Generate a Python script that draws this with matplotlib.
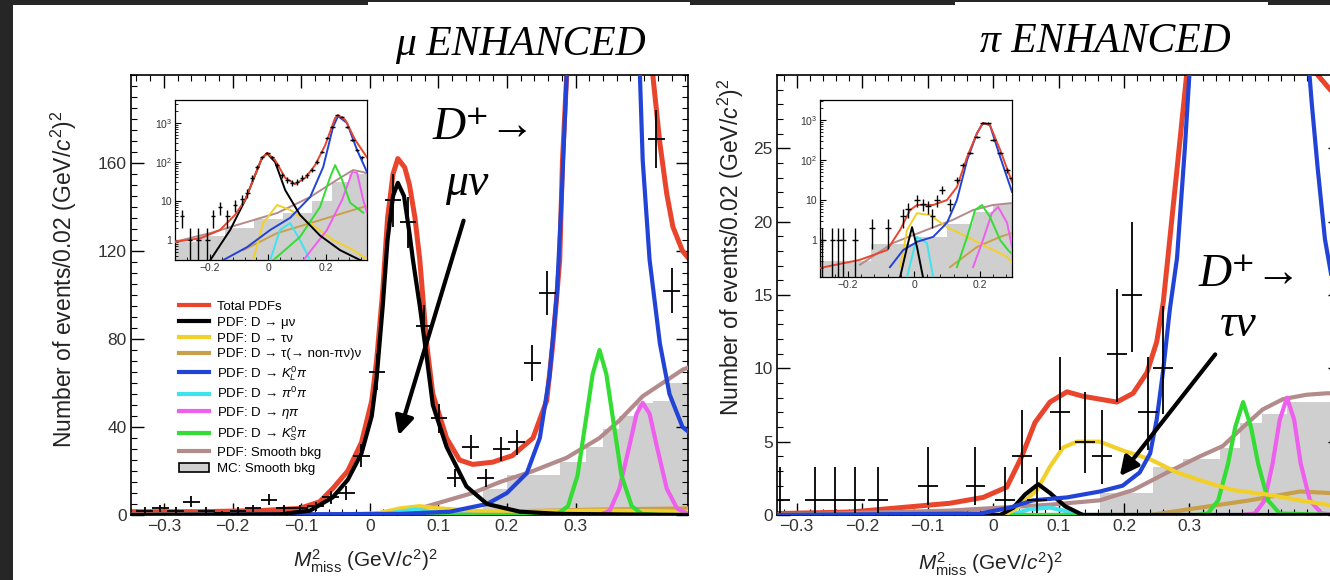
import numpy as np
import matplotlib.pyplot as plt
from matplotlib.patches import Rectangle, Patch
from matplotlib.lines import Line2D
from matplotlib.ticker import FixedLocator, MultipleLocator, NullFormatter

plt.rcParams['font.family'] = ['Liberation Sans', 'DejaVu Sans']
plt.rcParams['mathtext.fontset'] = 'custom'
plt.rcParams['mathtext.rm'] = 'Liberation Sans'
plt.rcParams['mathtext.it'] = 'Liberation Sans:italic'
plt.rcParams['mathtext.bf'] = 'Liberation Sans:bold'

W, H = 1330, 580
SERIF = ['Liberation Serif', 'DejaVu Serif']

# colours of the fit components
COL = dict(total='#e8452c', mu='black', tau='#f2d02a', taunon='#c9a04a', klpi='#2143d6',
           pi0pi='#3fe3ee', etapi='#ee5fee', kspi='#33dd33', smooth='#b38b8b', mc='#cfcfcf')

# ---------------- mu enhanced, main panel ----------------
mu_data_x = [-0.328, -0.305, -0.283, -0.260, -0.238, -0.215, -0.192, -0.170, -0.147, -0.125,
             -0.102, -0.079, -0.057, -0.034, -0.012, 0.011, 0.034, 0.056, 0.079, 0.101,
             0.124, 0.147, 0.169, 0.192, 0.214, 0.237, 0.259, 0.418, 0.440]
mu_data_y = [2, 3, 2, 6, 2, 1, 2, 3, 7, 3, 3, 4, 8, 10, 27, 65, 143, 133, 86, 44,
             17, 31, 17, 30, 33, 69, 101, 171, 102]

mu_total_x = [-0.348, -0.248, -0.160, -0.102, -0.073, -0.054, -0.032, -0.012, 0.003, 0.010,
              0.019, 0.026, 0.034, 0.041, 0.051, 0.058, 0.066, 0.073, 0.083, 0.092, 0.112,
              0.131, 0.150, 0.179, 0.208, 0.238, 0.258, 0.267, 0.277, 0.281, 0.287, 0.294,
              0.405, 0.413, 0.423, 0.433, 0.442, 0.456, 0.464]
mu_total_y = [1.5, 1.5, 2, 3, 6, 12, 20, 33, 52, 70, 102, 135, 155, 162, 158, 150, 135, 116,
              78, 55, 35, 25, 23, 24, 27, 35, 52, 78, 116, 161, 199, 260, 260, 199, 169, 146,
              131, 120, 117]
mu_munu_x = [-0.348, -0.131, -0.087, -0.054, -0.032, -0.012, 0.003, 0.010, 0.019, 0.026, 0.034,
             0.041, 0.050, 0.058, 0.063, 0.073, 0.083, 0.092, 0.112, 0.141, 0.171, 0.219, 0.277,
             0.464]
mu_munu_y = [0, 0.3, 2, 8, 16, 28, 45, 62, 95, 125, 145, 151, 145, 128, 116, 95, 72, 50, 31,
             13, 5, 1.5, 0.5, 0]
mu_klpi_x = [-0.348, 0.044, 0.117, 0.171, 0.200, 0.229, 0.248, 0.262, 0.273, 0.280, 0.287,
             0.294, 0.386, 0.394, 0.398, 0.408, 0.423, 0.437, 0.456, 0.464]
mu_klpi_y = [0, 0.5, 1.5, 5, 10, 19, 35, 63, 101, 146, 199, 260, 260, 199, 161, 116, 78, 55,
             40, 38]
mu_kspi_x = [-0.348, 0.250, 0.274, 0.289, 0.303, 0.316, 0.325, 0.335, 0.345, 0.354, 0.367,
             0.382, 0.397, 0.423, 0.464]
mu_kspi_y = [0, 0, 0.5, 4, 18, 45, 64, 75, 64, 45, 18, 4, 0.5, 0, 0]
mu_etapi_x = [-0.348, 0.335, 0.350, 0.364, 0.379, 0.389, 0.398, 0.408, 0.418, 0.433, 0.448,
              0.464]
mu_etapi_y = [0, 0, 2, 12, 32, 46, 51, 46, 32, 12, 3, 0.5]
mu_smooth_x = [-0.348, 0.015, 0.073, 0.117, 0.150, 0.190, 0.238, 0.287, 0.335, 0.364, 0.398,
               0.427, 0.456, 0.464]
mu_smooth_y = [0, 0.5, 3, 7, 10, 15, 20, 26, 35, 43, 54, 60, 66, 67]
mu_tau_x = [-0.348, -0.029, 0.015, 0.044, 0.073, 0.102, 0.146, 0.219, 0.335, 0.464]
mu_tau_y = [0, 0, 1, 3, 4, 3, 2, 1.5, 2, 1.5]
mu_taunon_x = [-0.348, 0.044, 0.190, 0.335, 0.464]
mu_taunon_y = [0, 0.5, 1.5, 2.5, 3]
mu_pi0pi_x = [-0.348, 0.015, 0.044, 0.066, 0.088, 0.117, 0.160, 0.464]
mu_pi0pi_y = [0, 0, 1.5, 2.5, 1.5, 0.3, 0, 0]
mu_mc_edges = [0.165, 0.200, 0.238, 0.277, 0.316, 0.340, 0.364, 0.389, 0.413, 0.437, 0.464]
mu_mc_h = [12, 18, 18, 24, 31, 39, 45, 51, 52, 60]

# ---------------- pi enhanced, main panel ----------------
pi_data_x = [-0.325, -0.272, -0.241, -0.211, -0.176, -0.099, -0.027, 0.018, 0.044, 0.067,
             0.102, 0.140, 0.166, 0.189, 0.212, 0.237, 0.260]
pi_data_y = [1, 1, 1, 1, 1, 2, 2, 1, 4, 1, 7, 5, 4, 11, 15, 7, 10]
pi_err_lo = [0.83, 0.83, 0.83, 0.83, 0.83, 1.29, 1.29, 0.83, 1.91, 0.83, 2.58, 2.16, 1.91,
             3.3, 3.87, 2.58, 3.1]
pi_err_hi = [2.3, 2.3, 2.3, 2.3, 2.3, 2.64, 2.64, 2.3, 3.16, 2.3, 3.77, 3.38, 3.16, 4.4,
             4.95, 3.77, 4.27]

pi_total_x = [-0.330, -0.218, -0.142, -0.066, -0.015, 0.021, 0.044, 0.064, 0.087, 0.113,
              0.137, 0.163, 0.189, 0.214, 0.235, 0.250, 0.260, 0.267, 0.282, 0.298, 0.308,
              0.484, 0.496, 0.515, 0.530]
pi_total_y = [0.1, 0.2, 0.5, 0.8, 1.2, 1.9, 4.0, 6.3, 7.7, 8.4, 8.1, 7.9, 7.7, 8.3, 9.7,
              11.8, 14.5, 17.5, 24, 31, 40, 40, 30, 29, 28.4]
pi_klpi_x = [-0.330, -0.020, 0.026, 0.061, 0.113, 0.163, 0.198, 0.224, 0.240, 0.250, 0.260,
             0.270, 0.281, 0.293, 0.304, 0.478, 0.487, 0.496, 0.507, 0.530]
pi_klpi_y = [0, 0.1, 0.5, 1.0, 1.2, 1.6, 2.0, 2.9, 4.2, 6.5, 9.9, 14, 17.5, 25, 33, 33, 28,
             23.6, 18.8, 13]
pi_munu_x = [-0.330, 0.011, 0.031, 0.049, 0.069, 0.087, 0.110, 0.137, 0.530]
pi_munu_y = [0, 0, 0.5, 1.4, 2.1, 1.5, 0.6, 0, 0]
pi_tau_x = [-0.330, 0.018, 0.037, 0.067, 0.087, 0.107, 0.128, 0.163, 0.198, 0.240, 0.281,
            0.321, 0.366, 0.418, 0.469, 0.510, 0.530]
pi_tau_y = [0, 0, 0.5, 1.7, 3.3, 4.6, 5.0, 5.0, 4.4, 3.8, 2.9, 2.3, 1.7, 1.4, 1.0, 0.7, 0.6]
pi_smooth_x = [-0.330, -0.066, 0.087, 0.163, 0.214, 0.266, 0.316, 0.351, 0.382, 0.412, 0.443,
               0.479, 0.510, 0.530]
pi_smooth_y = [0, 0.3, 0.7, 1.0, 1.7, 2.9, 4.0, 4.7, 6.0, 7.2, 7.9, 8.2, 8.3, 8.3]
pi_kspi_x = [-0.330, 0.310, 0.328, 0.344, 0.359, 0.370, 0.382, 0.394, 0.405, 0.420, 0.438,
             0.530]
pi_kspi_y = [0, 0, 0.1, 1.0, 3.5, 6.0, 7.7, 6.0, 3.5, 1.0, 0.1, 0]
pi_etapi_x = [-0.330, 0.380, 0.400, 0.415, 0.427, 0.438, 0.449, 0.460, 0.470, 0.484, 0.502,
              0.530]
pi_etapi_y = [0, 0, 0.1, 1.0, 3.5, 6.5, 8.0, 6.5, 3.5, 1.0, 0.1, 0]
pi_taunon_x = [-0.330, 0.240, 0.316, 0.392, 0.469, 0.515, 0.530]
pi_taunon_y = [0, 0, 0.5, 1.0, 1.6, 1.5, 1.5]
pi_pi0pi_x = [-0.330, 0.026, 0.056, 0.087, 0.118, 0.140, 0.530]
pi_pi0pi_y = [0, 0, 0.4, 0.5, 0.2, 0, 0]
pi_mc_edges = [0.163, 0.244, 0.290, 0.347, 0.377, 0.411, 0.449, 0.484, 0.530]
pi_mc_h = [1.5, 3.3, 3.8, 4.6, 6.3, 6.9, 7.7, 7.7]

# ---------------- insets (log scale) ----------------
mu_in_data_x = [-0.297, -0.269, -0.241, -0.210, -0.190, -0.166, -0.141, -0.114, -0.090, -0.072,
                -0.055, -0.038, -0.021, -0.003, 0.014, 0.031, 0.048, 0.066, 0.083, 0.100,
                0.117, 0.134, 0.152, 0.169, 0.186, 0.203, 0.221, 0.238, 0.255, 0.272, 0.290,
                0.307, 0.324]
mu_in_data_y = [4, 1, 1, 1, 4, 7, 4, 8, 11, 16, 39, 74, 134, 170, 134, 83, 46, 35, 29, 31,
                39, 46, 62, 100, 180, 410, 790, 1600, 1430, 790, 370, 200, 134]
mu_in = {
    'total': ([-0.321, -0.234, -0.166, -0.114, -0.079, -0.045, -0.021, -0.003, 0.024, 0.059,
               0.093, 0.128, 0.162, 0.197, 0.231, 0.241, 0.266, 0.300, 0.341],
              [0.9, 1.1, 1.8, 4.4, 10.6, 46, 127, 170, 112, 39, 27, 39, 83, 270, 1340, 1600,
               1200, 370, 130]),
    'mu': ([-0.200, -0.131, -0.079, -0.045, -0.021, -0.003, 0.024, 0.059, 0.110, 0.179, 0.248,
            0.341],
           [0.3, 1.8, 10.6, 46, 127, 165, 100, 19, 4.4, 1.3, 0.55, 0.25]),
    'klpi': ([-0.176, -0.072, 0.007, 0.076, 0.145, 0.190, 0.224, 0.241, 0.272, 0.307, 0.341],
             [0.25, 0.66, 1.8, 3.7, 12.6, 74, 790, 1500, 1000, 200, 55]),
    'kspi': ([0.017, 0.110, 0.179, 0.214, 0.231, 0.255, 0.283, 0.328],
             [0.3, 1.2, 7, 41, 83, 35, 9, 5]),
    'etapi': ([0.121, 0.203, 0.255, 0.290, 0.307, 0.328, 0.341],
              [0.3, 1.8, 10.6, 55, 52, 10.6, 5]),
    'smooth': ([-0.321, -0.200, -0.086, 0.031, 0.145, 0.238, 0.293, 0.328, 0.341],
               [0.9, 1.5, 2.7, 4.9, 12.6, 35, 62, 55, 50]),
    'taunon': ([-0.086, 0.031, 0.145, 0.259, 0.328, 0.341],
               [0.55, 1.5, 2.7, 4.9, 7, 7.2]),
    'tau': ([-0.052, -0.017, 0.031, 0.076, 0.145, 0.224, 0.293, 0.328, 0.341],
            [0.3, 2.7, 7.9, 5.9, 2.7, 1.0, 0.55, 0.37, 0.33]),
    'pi0pi': ([0.007, 0.041, 0.076, 0.110, 0.145],
              [0.3, 1.8, 2.7, 1.0, 0.3]),
}
mu_in_mc_edges = [-0.321, -0.25, -0.15, -0.05, 0.05, 0.15, 0.22, 0.28, 0.341]
mu_in_mc_h = [0.9, 1.3, 2, 3.5, 5, 10, 30, 50]

pi_in_data_x = [-0.279, -0.248, -0.230, -0.215, -0.179, -0.127, -0.079, -0.033, -0.018, 0.009,
                0.027, 0.042, 0.055, 0.070, 0.085, 0.109, 0.130, 0.148, 0.170, 0.191, 0.209,
                0.224, 0.239, 0.261, 0.282, 0.297]
pi_in_data_y = [1, 1, 1, 1, 1, 2, 2, 4, 6, 10, 8, 7, 4, 10, 18, 8, 32, 75, 150, 380, 840,
                840, 320, 150, 56, 36]
pi_in = {
    'total': ([-0.285, -0.164, -0.082, -0.042, -0.012, 0.009, 0.058, 0.100, 0.130, 0.161,
               0.191, 0.209, 0.230, 0.261, 0.297],
              [0.2, 0.32, 0.56, 1.8, 5.6, 7.5, 7.5, 10, 21, 120, 470, 840, 750, 180, 28]),
    'klpi': ([-0.073, -0.033, 0.009, 0.058, 0.100, 0.130, 0.161, 0.191, 0.209, 0.230, 0.261,
              0.297],
             [0.21, 0.56, 0.9, 1.2, 2.7, 10, 100, 470, 840, 750, 120, 16]),
    'mu': ([-0.042, -0.021, -0.006, 0.009, 0.027],
           [0.12, 0.67, 2.1, 0.67, 0.12]),
    'tau': ([-0.042, -0.021, 0.009, 0.048, 0.100, 0.161, 0.221, 0.282, 0.297],
            [0.21, 1.8, 4.7, 4.2, 2.1, 1.2, 0.67, 0.38, 0.27]),
    'smooth': ([-0.164, -0.064, 0.039, 0.118, 0.179, 0.239, 0.297],
               [0.24, 0.84, 1.8, 3.2, 5.6, 7.5, 8.4]),
    'kspi': ([0.130, 0.161, 0.185, 0.206, 0.230, 0.261, 0.285, 0.297],
             [0.21, 1.2, 5.6, 7.5, 3.8, 1.0, 0.56, 0.45]),
    'etapi': ([0.179, 0.209, 0.236, 0.255, 0.282, 0.297],
              [0.21, 1, 4.7, 6.7, 2.7, 0.67]),
    'taunon': ([0.109, 0.191, 0.261, 0.297],
               [0.21, 0.67, 1.2, 1.5]),
    'pi0pi': ([-0.021, 0.009, 0.039, 0.058],
              [0.12, 1.2, 0.84, 0.12]),
}
pi_in_mc_edges = [-0.285, -0.13, 0.0, 0.1, 0.18, 0.24, 0.297]
pi_in_mc_h = [0.3, 0.8, 1.2, 2.5, 5, 8]

legend_labels = ['Total PDFs', 'PDF: D \u2192 \u03bc\u03bd', 'PDF: D \u2192 \u03c4\u03bd',
                 'PDF: D \u2192 \u03c4(\u2192 non-\u03c0\u03bd)\u03bd',
                 'PDF: D \u2192 $K^{0}_{L}\\pi$', 'PDF: D \u2192 $\\pi^{0}\\pi$',
                 'PDF: D \u2192 $\\eta\\pi$', 'PDF: D \u2192 $K^{0}_{S}\\pi$',
                 'PDF: Smooth bkg', 'MC: Smooth bkg']
legend_keys = ['total', 'mu', 'tau', 'taunon', 'klpi', 'pi0pi', 'etapi', 'kspi', 'smooth']


def fx(px):
    return px / W


def fy(py):
    return 1 - py / H


def main_axes(fig, x0, x1, y0, y1):
    return fig.add_axes([fx(x0), fy(y1), (x1 - x0) / W, (y1 - y0) / H])


def style_main(ax, ymajor, yminor, ylabels):
    ax.xaxis.set_major_locator(FixedLocator([-0.3, -0.2, -0.1, 0, 0.1, 0.2, 0.3]))
    ax.set_xticklabels(['\u22120.3', '\u22120.2', '\u22120.1', '0', '0.1', '0.2', '0.3'])
    ax.xaxis.set_minor_locator(MultipleLocator(0.02))
    ax.yaxis.set_major_locator(FixedLocator(ymajor))
    ax.set_yticklabels(ylabels)
    ax.yaxis.set_minor_locator(MultipleLocator(yminor))
    ax.tick_params(which='both', direction='in', top=True, right=True, labelsize=12.5, pad=3,
                   labelcolor='#333333')
    ax.tick_params(which='major', length=9, width=1)
    ax.tick_params(which='minor', length=4.5, width=0.8)
    for s in ax.spines.values():
        s.set_linewidth(1.2)


def draw_main(ax, comps, total, mc_edges, mc_h):
    ax.stairs(mc_h, mc_edges, fill=True, color=COL['mc'], zorder=1)
    ax.plot(total[0], total[1], color=COL['total'], lw=3.6, zorder=2, solid_joinstyle='round')
    for key, (x, y) in comps:
        ax.plot(x, y, color=COL[key], lw=3.0, zorder=3, solid_joinstyle='round')


def draw_inset(ax, curves, mc_edges, mc_h, dx, dy, xlim, ylim):
    ax.stairs(mc_h, mc_edges, fill=True, color=COL['mc'], zorder=1, baseline=1e-3)
    order = ['smooth', 'taunon', 'tau', 'pi0pi', 'etapi', 'kspi', 'klpi', 'mu', 'total']
    for key in order:
        x, y = curves[key]
        ax.plot(x, y, color=COL[key], lw=1.4, zorder=3)
    dy = np.array(dy, dtype=float)
    lo = np.minimum(np.sqrt(dy), dy * 0.9)
    ax.errorbar(dx, dy, yerr=[lo, np.sqrt(dy)], xerr=0.008, fmt='none', ecolor='black',
                elinewidth=1.0, capsize=0, zorder=5)
    ax.set_yscale('log')
    ax.set_xlim(*xlim)
    ax.set_ylim(*ylim)
    ax.xaxis.set_major_locator(FixedLocator([-0.2, 0, 0.2]))
    ax.set_xticklabels(['\u22120.2', '0', '0.2'])
    ax.xaxis.set_minor_locator(MultipleLocator(0.04))
    ax.yaxis.set_major_locator(FixedLocator([1, 10, 100, 1000]))
    ax.set_yticklabels(['1', '10', '$10^{2}$', '$10^{3}$'])
    ax.yaxis.set_minor_formatter(NullFormatter())
    ax.tick_params(which='both', direction='in', labelsize=7.5, pad=2, labelcolor='#333333')
    ax.tick_params(which='major', length=4, width=0.8)
    ax.tick_params(which='minor', length=2, width=0.6)
    for s in ax.spines.values():
        s.set_linewidth(0.9)


fig = plt.figure(figsize=(13.3, 5.8), dpi=100)
fig.patch.set_facecolor('#262626')
fig.patches.append(Rectangle((fx(13), 0), 1, fy(5), transform=fig.transFigure,
                             facecolor='white', edgecolor='none', zorder=-2))
fig.patches.append(Rectangle((fx(368), fy(40)), fx(690 - 368), fy(2) - fy(40),
                             transform=fig.transFigure, facecolor='white', edgecolor='none',
                             zorder=-2))
fig.patches.append(Rectangle((fx(955), fy(40)), fx(1268 - 955), fy(2) - fy(40),
                             transform=fig.transFigure, facecolor='white', edgecolor='none',
                             zorder=-2))

# ----- left panel -----
axL = main_axes(fig, 131, 688, 75, 515)
draw_main(axL, [('smooth', (mu_smooth_x, mu_smooth_y)), ('taunon', (mu_taunon_x, mu_taunon_y)),
                ('tau', (mu_tau_x, mu_tau_y)), ('pi0pi', (mu_pi0pi_x, mu_pi0pi_y)),
                ('etapi', (mu_etapi_x, mu_etapi_y)), ('kspi', (mu_kspi_x, mu_kspi_y)),
                ('klpi', (mu_klpi_x, mu_klpi_y)), ('mu', (mu_munu_x, mu_munu_y))],
          (mu_total_x, mu_total_y), mu_mc_edges, mu_mc_h)
axL.errorbar(mu_data_x, mu_data_y, yerr=np.sqrt(mu_data_y), xerr=0.012, fmt='none',
             ecolor='black', elinewidth=1.3, capsize=0, zorder=5)
axL.set_xlim(-0.348, 0.464)
axL.set_ylim(0, 200)
style_main(axL, [0, 40, 80, 120, 160], 5, ['0', '40', '80', '120', '160'])

handles = [Line2D([], [], color=COL[k], lw=3) for k in legend_keys]
handles.append(Patch(facecolor=COL['mc'], edgecolor='black', lw=1.2))
axL.legend(handles, legend_labels, loc='upper left', bbox_to_anchor=(0.086, 0.487),
           frameon=False, fontsize=9.5, handlelength=2.3, handletextpad=0.6,
           labelspacing=0.27, borderpad=0, borderaxespad=0)

axL.annotate('', xy=(0.041, 35), xytext=(0.138, 135),
             arrowprops=dict(arrowstyle='-|>', lw=3, color='black', mutation_scale=28))
fig.text(fx(484), fy(128), 'D\u207a\u2192', family=SERIF, style='italic', fontsize=33,
         ha='center', va='center')
fig.text(fx(467), fy(184), '\u03bc\u03bd', family=SERIF, style='italic', fontsize=33,
         ha='center', va='center')

insL = main_axes(fig, 175, 367, 100, 260)
draw_inset(insL, mu_in, mu_in_mc_edges, mu_in_mc_h, mu_in_data_x, mu_in_data_y,
           (-0.321, 0.341), (0.307, 3870))

# ----- right panel -----
axR = main_axes(fig, 777, 1340, 75, 515)
draw_main(axR, [('smooth', (pi_smooth_x, pi_smooth_y)), ('taunon', (pi_taunon_x, pi_taunon_y)),
                ('pi0pi', (pi_pi0pi_x, pi_pi0pi_y)), ('etapi', (pi_etapi_x, pi_etapi_y)),
                ('kspi', (pi_kspi_x, pi_kspi_y)), ('tau', (pi_tau_x, pi_tau_y)),
                ('mu', (pi_munu_x, pi_munu_y)), ('klpi', (pi_klpi_x, pi_klpi_y))],
          (pi_total_x, pi_total_y), pi_mc_edges, pi_mc_h)
axR.errorbar(pi_data_x, pi_data_y, yerr=[pi_err_lo, pi_err_hi], xerr=0.015, fmt='none',
             ecolor='black', elinewidth=1.3, capsize=0, zorder=5)
axR.set_xlim(-0.330, 0.530)
axR.set_ylim(0, 30)
style_main(axR, [0, 5, 10, 15, 20, 25], 1, ['0', '5', '10', '15', '20', '25'])

axR.annotate('', xy=(0.191, 2.5), xytext=(0.342, 11.1),
             arrowprops=dict(arrowstyle='-|>', lw=3, color='black', mutation_scale=28))
fig.text(fx(1250), fy(275), 'D\u207a\u2192', family=SERIF, style='italic', fontsize=33,
         ha='center', va='center')
fig.text(fx(1238), fy(325), '\u03c4\u03bd', family=SERIF, style='italic', fontsize=33,
         ha='center', va='center')

insR = main_axes(fig, 820, 1012, 100, 277)
draw_inset(insR, pi_in, pi_in_mc_edges, pi_in_mc_h, pi_in_data_x, pi_in_data_y,
           (-0.285, 0.297), (0.119, 3162))

# ----- axis titles -----
ylab = 'Number of events/0.02 (GeV/$c^{2}$)$^{2}$'
fig.text(fx(64), fy(279), ylab, rotation=90, ha='center', va='center', fontsize=16.5,
         color='#222222')
fig.text(fx(731), fy(247), ylab, rotation=90, ha='center', va='center', fontsize=16.5,
         color='#222222')
xlab = '$M^{2}_{\\mathrm{miss}}$ (GeV/$c^{2}$)$^{2}$'
fig.text(fx(365), fy(561), xlab, ha='center', va='center', fontsize=15, color='#222222')
fig.text(fx(990), fy(564), xlab, ha='center', va='center', fontsize=15, color='#222222')

fig.text(fx(520), fy(45), '\u03bc ENHANCED', family=SERIF, style='italic', fontsize=30,
         ha='center', va='center')
fig.text(fx(1105), fy(42), '\u03c0 ENHANCED', family=SERIF, style='italic', fontsize=30,
         ha='center', va='center')

fig.savefig('out.png', dpi=100, facecolor=fig.get_facecolor())
